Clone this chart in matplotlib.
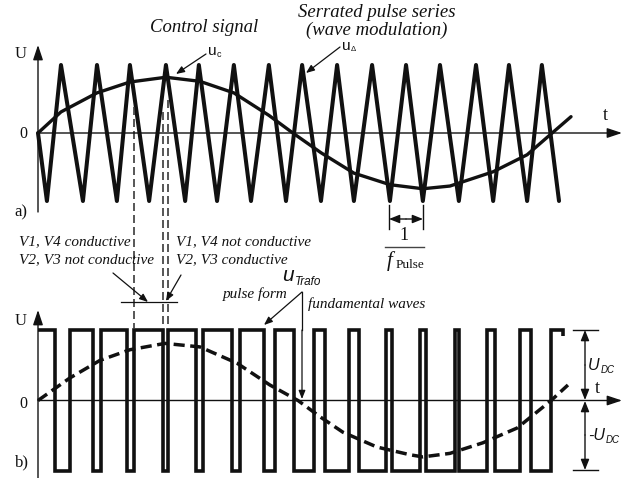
import matplotlib
matplotlib.use("Agg")
import matplotlib.pyplot as plt

# ---------------- data (time in carrier periods, voltages normalised) ----------------
# triangular carrier u_delta : vertices (start, then trough/peak alternating)
carrier_t = [0.00, 0.26, 0.67, 1.31, 1.72, 2.30, 2.68, 3.24, 3.73, 4.29, 4.69, 5.22,
             5.71, 6.21, 6.73, 7.23, 7.70, 8.25, 8.72, 9.21, 9.74, 10.26, 10.73,
             11.22, 11.72, 12.27, 12.77, 13.27, 13.73, 14.26, 14.69, 15.19]
carrier_u = [0, -1, 1, -1, 1, -1, 1, -1, 1, -1, 1, -1, 1, -1, 1, -1, 1, -1, 1, -1,
             1, -1, 1, -1, 1, -1, 1, -1, 1, -1, 1, -1]

# control signal u_c
control_t = [0.00, 0.67, 1.72, 2.68, 3.73, 4.72, 5.71, 6.73, 7.43, 8.25, 9.21,
             10.26, 11.22, 12.01, 13.27, 14.26, 14.99, 15.54]
control_u = [0.00, 0.31, 0.59, 0.75, 0.82, 0.76, 0.59, 0.26, 0.00, -0.29, -0.59,
             -0.76, -0.82, -0.78, -0.57, -0.32, 0.00, 0.24]

# transformer voltage: switching instants (starts at +U_DC)
pulse_start_level = 1
pulse_edges = [0.50, 0.93, 1.60, 1.84, 2.59, 2.80, 3.64, 3.79, 4.61, 4.81, 5.66, 5.89,
               6.59, 6.91, 7.46, 8.05, 8.37, 9.07, 9.36, 10.15, 10.32, 11.14, 11.31,
               12.16, 12.27, 13.09, 13.32, 14.05, 14.37, 14.96]
pulse_end = 15.31

# fundamental wave
fund_t = [0.00, 0.93, 1.81, 2.68, 3.70, 4.72, 5.80, 6.76, 7.58, 8.22, 8.89, 9.88,
          10.85, 11.22, 12.01, 12.97, 13.97, 14.96, 15.45]
fund_u = [0.00, 0.32, 0.57, 0.72, 0.81, 0.76, 0.53, 0.22, 0.00, -0.23, -0.45, -0.66,
          -0.77, -0.80, -0.75, -0.60, -0.39, 0.00, 0.22]

# ---------------- layout helpers ----------------
W, H = 627, 478
PX0, PXT = 38.0, 34.3          # pixel of t=0 and pixels per carrier period
def tx(t):
    return PX0 + PXT * t

fig = plt.figure(figsize=(W / 100, H / 100), dpi=100)
fig.patch.set_facecolor("white")

SERIF = "Liberation Serif"
SANS = "Liberation Sans"
K = "#111111"

# panel a
ax_a = fig.add_axes([0, (H - 230) / H, 1, 230 / H])
ax_a.set_xlim(-PX0 / PXT, (W - PX0) / PXT)
ax_a.set_ylim((133 - 230) / 68.0, 133 / 68.0)
ax_a.axis("off")
ax_a.patch.set_alpha(0)

# panel b
ax_b = fig.add_axes([0, 0, 1, 248 / H])
ax_b.set_xlim(-PX0 / PXT, (W - PX0) / PXT)
ax_b.set_ylim((400.5 - 478) / 70.5, (400.5 - 230) / 70.5)
ax_b.axis("off")
ax_b.patch.set_alpha(0)

# overlay in pixel coordinates for annotations
ax_o = fig.add_axes([0, 0, 1, 1])
ax_o.set_xlim(0, W)
ax_o.set_ylim(H, 0)
ax_o.axis("off")
ax_o.patch.set_alpha(0)

# ---------------- curves ----------------
ax_a.plot(carrier_t, carrier_u, color=K, lw=2.9, solid_joinstyle="round",
          solid_capstyle="round", zorder=3)
ax_a.plot(control_t, control_u, color=K, lw=2.4, solid_joinstyle="round",
          solid_capstyle="round", zorder=4)

# step path for the pulse train
px_, py_ = [0.0], [pulse_start_level]
lvl = pulse_start_level
for e in pulse_edges:
    px_ += [e, e]
    py_ += [lvl, -lvl]
    lvl = -lvl
px_ += [pulse_end, pulse_end]
py_ += [lvl, lvl - 0.08]
ax_b.plot(px_, py_, color=K, lw=2.6, solid_joinstyle="miter", solid_capstyle="butt",
          zorder=3)
ax_b.plot(fund_t, fund_u, color=K, lw=2.5, dashes=(3.2, 1.6), zorder=4)


def arrow(p0, p1, lw=1.0, hl=0.45, hw=0.15, ms=20, style="-|>"):
    ax_o.annotate("", xy=p1, xytext=p0,
                  arrowprops=dict(arrowstyle=f"{style},head_length={hl},head_width={hw}",
                                  color=K, lw=lw, mutation_scale=ms,
                                  shrinkA=0, shrinkB=0))

# axes with arrows
arrow((38, 212), (38, 45))
arrow((38, 133), (622, 133))
arrow((38, 478), (38, 310))
arrow((38, 400.5), (622, 400.5))

# vertical dashed guide lines at switching instants
for e, top in zip(pulse_edges[5:8], [107, 112, 100]):
    ax_o.plot([tx(e), tx(e)], [top, 329], color="#3a3a3a", lw=1.2, dashes=(4.8, 2.4),
              zorder=2)

# ---------------- texts panel a ----------------
def t_(x, y, s, size, family=SERIF, style="normal", ha="left", weight="normal"):
    ax_o.text(x, y, s, fontsize=size, family=family, style=style, ha=ha,
              va="baseline", color=K, weight=weight)

t_(21, 58, "U", 12, ha="center")
t_(23, 138, "0", 11.5, ha="center")
t_(21, 216, "a)", 12, ha="center")
t_(605, 120, "t", 13, ha="center")

t_(204, 32, "Control signal", 13.5, style="italic", ha="center")
t_(377, 17, "Serrated pulse series", 13.5, style="italic", ha="center")
t_(377, 35, "(wave modulation)", 13.5, style="italic", ha="center")

t_(208, 55, "u", 11, family=SANS)
t_(217, 57, "c", 6.5, family=SANS)
arrow((206, 54), (176, 74), lw=0.9, hl=0.5, hw=0.2, ms=10)
t_(342, 50, "u", 11, family=SANS)
t_(351, 51, "\u0394", 5.5, family=SANS)
arrow((340, 47), (306, 73), lw=0.9, hl=0.5, hw=0.2, ms=10)

# 1/f_Pulse dimension
for xx in (389, 423):
    ax_o.plot([xx, xx], [205, 229], color=K, lw=1.0)
arrow((406, 219), (389, 219), lw=1.0, hl=0.45, hw=0.18, ms=14)
arrow((406, 219), (423, 219), lw=1.0, hl=0.45, hw=0.18, ms=14)
t_(404, 240, "1", 13, ha="center")
ax_o.plot([385, 424], [247, 247], color="#444444", lw=1.0)
t_(387, 266, "f", 15, style="italic")
t_(396, 268, "Pulse", 9.5)

# ---------------- texts between panels ----------------
t_(19, 245, "V1, V4 conductive", 11, style="italic")
t_(19, 263, "V2, V3 not conductive", 11, style="italic")
t_(176, 245, "V1, V4 not conductive", 11, style="italic")
t_(176, 263, "V2, V3 conductive", 11, style="italic")
ax_o.plot([121, 177], [302, 302], color=K, lw=0.9)
arrow((113, 273), (148, 302), lw=0.9, hl=0.5, hw=0.2, ms=10)
arrow((181, 275), (166, 301), lw=0.9, hl=0.5, hw=0.2, ms=10)

t_(282, 281, "u", 15, family=SANS, style="italic")
t_(295, 285, "Trafo", 8.5, family=SANS, style="italic")
t_(223, 298, "pulse form", 11, style="italic")
t_(308, 308, "fundamental waves", 11, style="italic")
ax_o.plot([302, 302], [292, 330], color=K, lw=0.9)
arrow((302, 292), (264, 325), lw=0.9, hl=0.5, hw=0.2, ms=10)
arrow((302, 330), (302, 399), lw=0.9, hl=0.5, hw=0.2, ms=10)

# ---------------- texts panel b ----------------
t_(21, 325, "U", 12, ha="center")
t_(23, 408, "0", 11.5, ha="center")
t_(22, 466, "b)", 12, ha="center")
t_(597, 393, "t", 13, ha="center")

# U_DC dimension
ax_o.plot([573, 598], [330, 330], color=K, lw=1.0)
ax_o.plot([573, 598], [470, 470], color=K, lw=1.0)
arrow((585, 365), (585, 330), lw=1.0, hl=0.45, hw=0.18, ms=14)
arrow((585, 365), (585, 400), lw=1.0, hl=0.45, hw=0.18, ms=14)
arrow((585, 435), (585, 401), lw=1.0, hl=0.45, hw=0.18, ms=14)
arrow((585, 435), (585, 470), lw=1.0, hl=0.45, hw=0.18, ms=14)
t_(588, 370, "U", 11.5, family=SANS, style="italic")
t_(601, 373, "DC", 7, family=SANS, style="italic")
t_(588, 440, "-U", 11.5, family=SANS, style="italic")
t_(606, 443, "DC", 7, family=SANS, style="italic")

fig.savefig("out.png", dpi=100, facecolor="white")
